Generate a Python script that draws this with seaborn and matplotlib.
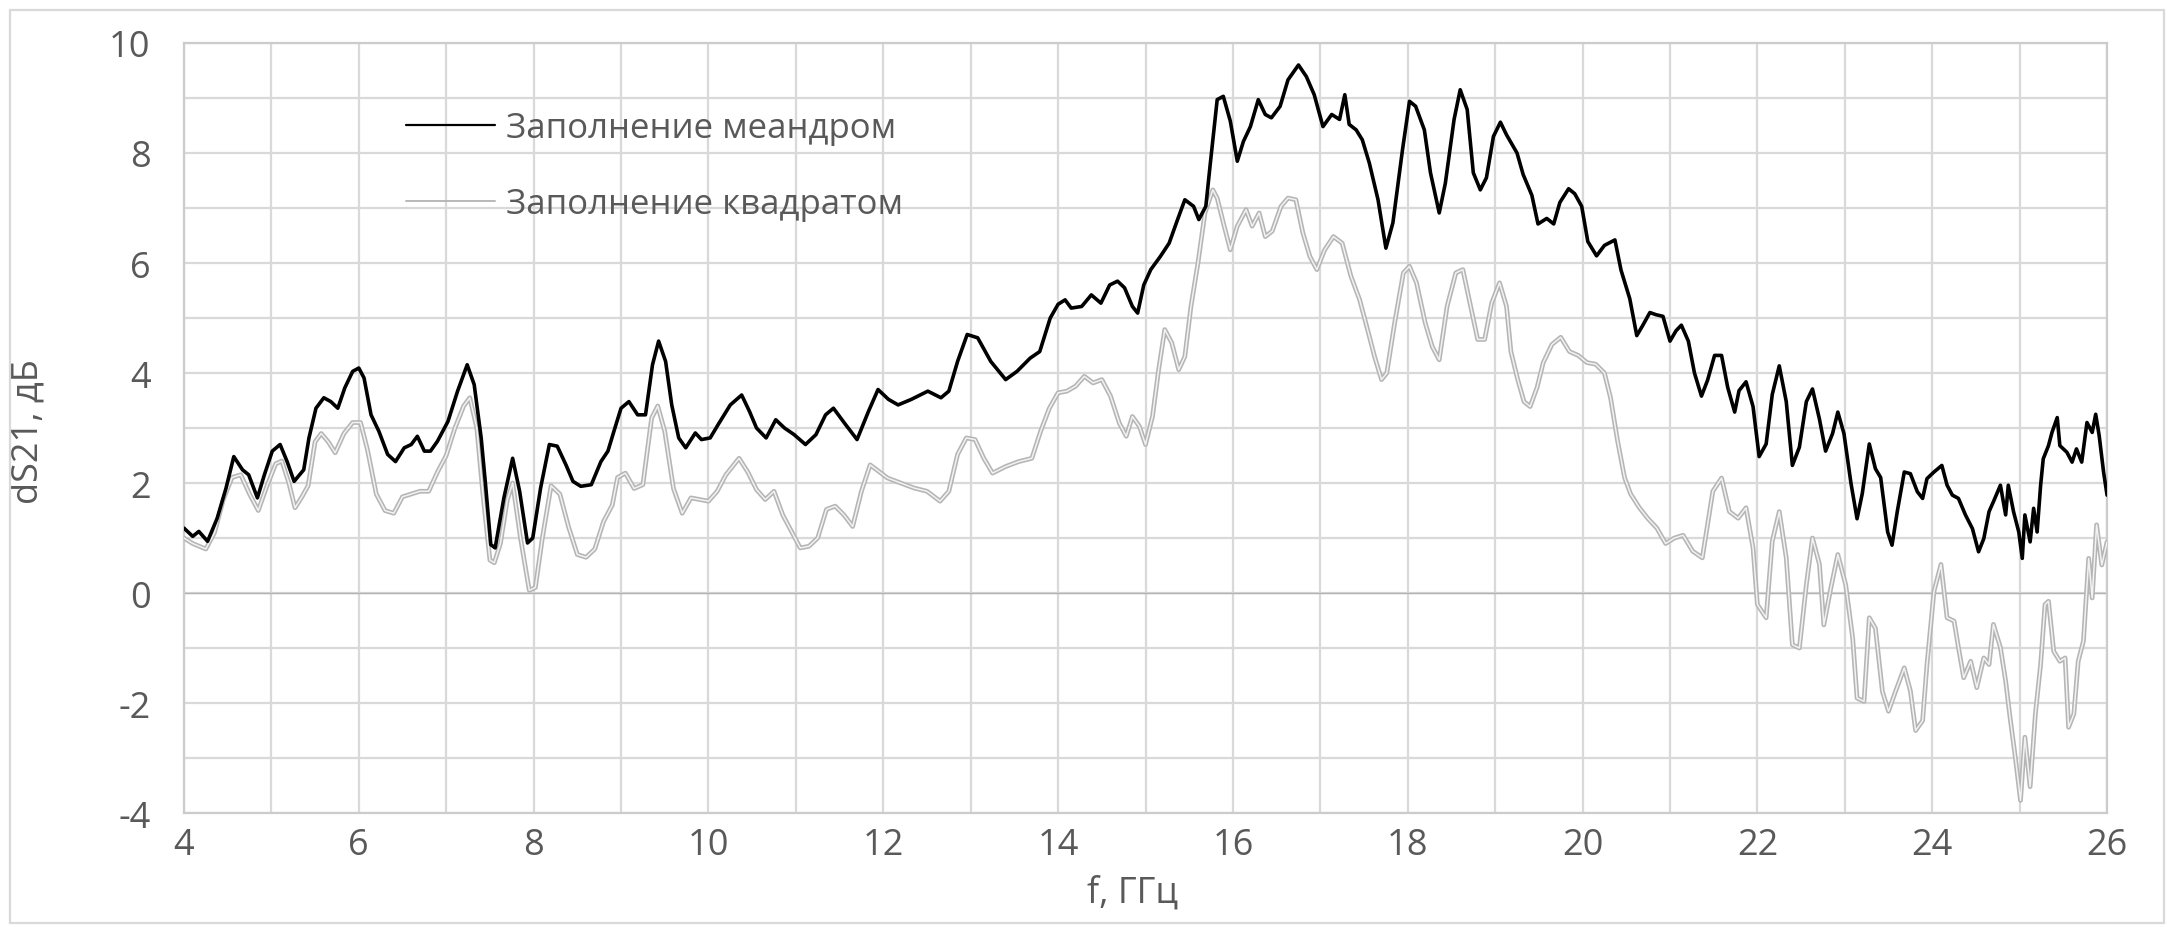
import matplotlib
matplotlib.use("Agg")
import matplotlib.pyplot as plt
from matplotlib.lines import Line2D
from matplotlib.patches import Rectangle
from matplotlib.ticker import MultipleLocator
import pandas as pd
import seaborn as sns

# Transmission difference dS21 (dB) vs frequency (GHz)
meander_f = [4.0, 4.1, 4.17, 4.27, 4.38, 4.48, 4.57, 4.67, 4.74, 4.84, 4.92, 5.01, 5.1, 5.18, 5.26,
             5.37, 5.43, 5.51, 5.6, 5.68, 5.76, 5.84, 5.93, 6.0, 6.06, 6.14, 6.23, 6.33, 6.42, 6.52,
             6.6, 6.67, 6.75, 6.82, 6.9, 7.02, 7.13, 7.24, 7.32, 7.4, 7.45, 7.51, 7.56, 7.66, 7.76,
             7.84, 7.93, 7.99, 8.08, 8.18, 8.27, 8.37, 8.45, 8.54, 8.66, 8.77, 8.85, 8.93, 9.0, 9.09,
             9.19, 9.28, 9.36, 9.43, 9.51, 9.58, 9.66, 9.74, 9.85, 9.92, 10.02, 10.11, 10.25, 10.38,
             10.47, 10.55, 10.66, 10.77, 10.87, 10.98, 11.11, 11.23, 11.34, 11.43, 11.57, 11.7, 11.83,
             11.94, 12.06, 12.17, 12.32, 12.51, 12.66, 12.75, 12.85, 12.96, 13.08, 13.23, 13.4, 13.53,
             13.68, 13.79, 13.91, 14.0, 14.08, 14.15, 14.27, 14.38, 14.49, 14.59, 14.68, 14.76, 14.85,
             14.91, 14.98, 15.06, 15.17, 15.27, 15.36, 15.45, 15.55, 15.61, 15.69, 15.74, 15.82, 15.89,
             15.97, 16.05, 16.12, 16.2, 16.29, 16.37, 16.44, 16.54, 16.63, 16.75, 16.84, 16.93, 17.03,
             17.13, 17.22, 17.28, 17.33, 17.41, 17.48, 17.56, 17.66, 17.75, 17.83, 17.94, 18.02, 18.09,
             18.19, 18.26, 18.36, 18.43, 18.53, 18.6, 18.68, 18.75, 18.83, 18.9, 18.98, 19.06, 19.13,
             19.25, 19.32, 19.42, 19.49, 19.59, 19.67, 19.74, 19.84, 19.91, 19.99, 20.06, 20.16, 20.25,
             20.37, 20.44, 20.54, 20.62, 20.69, 20.77, 20.84, 20.92, 21.0, 21.07, 21.13, 21.21, 21.28,
             21.36, 21.43, 21.51, 21.59, 21.66, 21.74, 21.79, 21.87, 21.95, 22.02, 22.1, 22.17, 22.25,
             22.33, 22.4, 22.48, 22.56, 22.63, 22.71, 22.78, 22.86, 22.92, 22.99, 23.07, 23.14, 23.2,
             23.28, 23.35, 23.41, 23.49, 23.54, 23.6, 23.68, 23.75, 23.83, 23.89, 23.94, 24.02, 24.11,
             24.17, 24.23, 24.3, 24.38, 24.46, 24.53, 24.59, 24.65, 24.7, 24.78, 24.84, 24.87, 24.93,
             24.99, 25.03, 25.06, 25.12, 25.16, 25.2, 25.24, 25.27, 25.33, 25.37, 25.43, 25.46, 25.54,
             25.6, 25.65, 25.71, 25.77, 25.83, 25.87, 25.91, 25.96, 26.0]
meander_db = [1.18, 1.03, 1.12, 0.94, 1.36, 1.9, 2.48, 2.24, 2.15, 1.73, 2.15, 2.58, 2.7, 2.39, 2.03,
              2.24, 2.82, 3.36, 3.55, 3.48, 3.36, 3.73, 4.03, 4.09, 3.91, 3.24, 2.94, 2.52, 2.39, 2.64,
              2.7, 2.85, 2.58, 2.58, 2.76, 3.12, 3.67, 4.15, 3.79, 2.82, 1.97, 0.88, 0.82, 1.73, 2.45,
              1.85, 0.91, 1.0, 1.91, 2.7, 2.67, 2.33, 2.03, 1.94, 1.97, 2.39, 2.58, 3.0, 3.36, 3.48,
              3.24, 3.24, 4.15, 4.58, 4.21, 3.42, 2.82, 2.64, 2.91, 2.79, 2.82, 3.06, 3.42, 3.6,
              3.3, 3.0, 2.82, 3.15, 3.0, 2.88, 2.7, 2.88, 3.24, 3.36, 3.06, 2.79, 3.3,
              3.7, 3.52, 3.42, 3.52, 3.67, 3.55, 3.67, 4.21, 4.7, 4.64, 4.21, 3.88, 4.03,
              4.27, 4.39, 5.0, 5.25, 5.33, 5.18, 5.21, 5.42, 5.27, 5.6, 5.67, 5.55, 5.21,
              5.09, 5.6, 5.88, 6.12, 6.36, 6.76, 7.15, 7.03, 6.79, 7.03, 7.79, 8.97, 9.03,
              8.58, 7.85, 8.21, 8.48, 8.97, 8.7, 8.64, 8.85, 9.33, 9.6, 9.39, 9.06, 8.48,
              8.7, 8.61, 9.06, 8.52, 8.42, 8.24, 7.82, 7.15, 6.27, 6.73, 8.06, 8.94, 8.85,
              8.42, 7.64, 6.91, 7.45, 8.61, 9.15, 8.79, 7.64, 7.33, 7.55, 8.3, 8.56, 8.33,
              8.0, 7.61, 7.23, 6.71, 6.81, 6.71, 7.1, 7.35, 7.26, 7.03, 6.39, 6.13, 6.32,
              6.42, 5.87, 5.35, 4.68, 4.87, 5.1, 5.06, 5.03, 4.58, 4.77, 4.87, 4.58, 4.0,
              3.58, 3.87, 4.32, 4.32, 3.74, 3.29, 3.68, 3.84, 3.39, 2.48, 2.71, 3.61, 4.13,
              3.48, 2.32, 2.65, 3.48, 3.71, 3.16, 2.58, 2.9, 3.29, 2.9, 2.0, 1.35, 1.81,
              2.71, 2.26, 2.1, 1.11, 0.87, 1.48, 2.2, 2.17, 1.84, 1.72, 2.08, 2.2, 2.32,
              1.96, 1.78, 1.72, 1.42, 1.17, 0.75, 0.99, 1.48, 1.66, 1.96, 1.42, 1.96, 1.48,
              1.11, 0.63, 1.42, 0.93, 1.54, 1.11, 1.96, 2.44, 2.68, 2.92, 3.19, 2.68, 2.56,
              2.38, 2.62, 2.38, 3.1, 2.92, 3.25, 2.86, 2.2, 1.78]

square_f = [4.0, 4.1, 4.25, 4.35, 4.45, 4.55, 4.65, 4.75, 4.85, 4.95, 5.05, 5.12, 5.2, 5.27, 5.35,
            5.42, 5.5, 5.57, 5.65, 5.73, 5.83, 5.93, 6.02, 6.1, 6.2, 6.3, 6.4, 6.5, 6.6, 6.7, 6.8,
            6.9, 7.0, 7.1, 7.2, 7.27, 7.35, 7.42, 7.5, 7.55, 7.62, 7.7, 7.76, 7.85, 7.95, 8.02, 8.1,
            8.2, 8.3, 8.4, 8.5, 8.6, 8.7, 8.8, 8.9, 8.96, 9.05, 9.15, 9.25, 9.35, 9.42, 9.5, 9.6,
            9.7, 9.8, 9.9, 10.0, 10.1, 10.2, 10.35, 10.45, 10.55, 10.65, 10.75, 10.85, 10.95, 11.05,
            11.15, 11.25, 11.35, 11.45, 11.55, 11.65, 11.75, 11.85, 11.95, 12.05, 12.2, 12.35, 12.5,
            12.65, 12.75, 12.85, 12.95, 13.05, 13.15, 13.25, 13.4, 13.55, 13.7, 13.8, 13.9, 14.0,
            14.1, 14.2, 14.3, 14.4, 14.5, 14.6, 14.7, 14.78, 14.85, 14.93, 15.0, 15.08, 15.15, 15.22,
            15.3, 15.38, 15.45, 15.52, 15.6, 15.68, 15.77, 15.82, 15.9, 15.97, 16.05, 16.15, 16.22,
            16.3, 16.37, 16.45, 16.55, 16.63, 16.72, 16.8, 16.88, 16.96, 17.05, 17.15, 17.25, 17.35,
            17.45, 17.55, 17.62, 17.7, 17.76, 17.85, 17.95, 18.02, 18.1, 18.2, 18.28, 18.36, 18.45,
            18.55, 18.63, 18.72, 18.8, 18.88, 18.96, 19.05, 19.13, 19.18, 19.26, 19.33, 19.4, 19.48,
            19.55, 19.65, 19.75, 19.85, 19.95, 20.05, 20.15, 20.25, 20.32, 20.4, 20.48, 20.55, 20.65,
            20.75, 20.85, 20.95, 21.05, 21.15, 21.26, 21.37, 21.49, 21.59, 21.68, 21.78, 21.87, 21.95,
            22.0, 22.1, 22.17, 22.25, 22.33, 22.4, 22.48, 22.56, 22.63, 22.71, 22.76, 22.84, 22.92,
            23.01, 23.09, 23.14, 23.22, 23.28, 23.35, 23.43, 23.5, 23.58, 23.68, 23.75, 23.81, 23.89,
            23.94, 24.02, 24.1, 24.17, 24.25, 24.3, 24.36, 24.44, 24.51, 24.59, 24.65, 24.7, 24.78,
            24.84, 24.89, 24.95, 25.01, 25.06, 25.12, 25.18, 25.24, 25.29, 25.33, 25.39, 25.46, 25.52,
            25.56, 25.62, 25.67, 25.73, 25.79, 25.83, 25.88, 25.94, 26.0]
square_db = [1.0, 0.9, 0.8, 1.1, 1.7, 2.1, 2.15, 1.8, 1.5, 1.95, 2.35, 2.4, 2.0, 1.55, 1.75,
             1.95, 2.75, 2.9, 2.75, 2.55, 2.9, 3.1, 3.1, 2.6, 1.8, 1.5, 1.45, 1.75, 1.8, 1.85, 1.85,
             2.2, 2.5, 3.0, 3.4, 3.55, 3.0, 1.8, 0.6, 0.55, 0.9, 1.7, 2.0, 1.0, 0.05, 0.1, 1.0,
             1.95, 1.8, 1.2, 0.7, 0.65, 0.8, 1.3, 1.6, 2.1, 2.18, 1.9, 1.97, 3.18, 3.4, 2.94, 1.9,
             1.45, 1.73, 1.7, 1.67, 1.85, 2.15, 2.45, 2.2, 1.88, 1.7, 1.85, 1.42, 1.12, 0.82,
             0.85, 1.0, 1.52, 1.58, 1.42, 1.21, 1.85, 2.33, 2.21, 2.09, 2.0, 1.91, 1.85,
             1.67, 1.85, 2.52, 2.82, 2.79, 2.45, 2.18, 2.3, 2.39, 2.45, 2.94, 3.36, 3.64,
             3.67, 3.76, 3.94, 3.82, 3.88, 3.58, 3.09, 2.85, 3.21, 3.03, 2.7, 3.21, 4.06, 4.79,
             4.55, 4.06, 4.3, 5.21, 6.0, 6.91, 7.33, 7.18, 6.67, 6.24, 6.67, 6.97, 6.67,
             6.91, 6.48, 6.58, 7.03, 7.18, 7.15, 6.55, 6.12, 5.88, 6.24, 6.48, 6.36, 5.76,
             5.33, 4.73, 4.3, 3.88, 4.0, 4.91, 5.82, 5.94, 5.64, 4.91, 4.48, 4.24, 5.21,
             5.82, 5.88, 5.21, 4.61, 4.61, 5.27, 5.64, 5.21, 4.39, 3.87, 3.48, 3.39, 3.74,
             4.19, 4.52, 4.65, 4.39, 4.32, 4.19, 4.16, 4.0, 3.55, 2.77, 2.1, 1.8, 1.55,
             1.35, 1.18, 0.9, 1.0, 1.05, 0.76, 0.64, 1.85, 2.09, 1.48, 1.36, 1.55, 0.82,
             -0.21, -0.45, 0.94, 1.48, 0.64, -0.94, -1.0, 0.15, 1.0, 0.52, -0.58, 0.09, 0.7,
             0.15, -0.82, -1.91, -1.97, -0.45, -0.64, -1.79, -2.15, -1.79, -1.36, -1.78, -2.5, -2.32,
             -1.3, 0.03, 0.52, -0.45, -0.51, -0.99, -1.54, -1.24, -1.72, -1.18, -1.3, -0.57, -0.99,
             -1.6, -2.26, -2.98, -3.77, -2.62, -3.52, -2.2, -1.3, -0.21, -0.15, -1.06, -1.24, -1.18,
             -2.44, -2.2, -1.24, -0.87, 0.63, -0.09, 1.24, 0.51, 0.93]

label_meander = "Заполнение меандром"
label_square = "Заполнение квадратом"
x_label = "f, ГГц"
y_label = "dS21, дБ"

meander = pd.DataFrame({"f": meander_f, "dS21": meander_db})
square = pd.DataFrame({"f": square_f, "dS21": square_db})

sns.set_style("white")
plt.rcParams["font.family"] = ["Open Sans", "DejaVu Sans"]
plt.rcParams["axes.unicode_minus"] = False
text_color = "#595959"
grid_color = "#d9d9d9"

fig = plt.figure(figsize=(21.72, 9.28), dpi=100)
ax = fig.add_axes([0.0847, 0.1228, 0.8854, 0.8298])

# square-fill series: light double line (outline + pale core)
sns.lineplot(data=square, x="f", y="dS21", ax=ax, color="#b5b5b5", lw=3.4,
             estimator=None, sort=False, legend=False, zorder=3)
sns.lineplot(data=square, x="f", y="dS21", ax=ax, color="#f2f2f2", lw=1.1,
             estimator=None, sort=False, legend=False, zorder=4)
# meander-fill series
sns.lineplot(data=meander, x="f", y="dS21", ax=ax, color="black", lw=2.6,
             estimator=None, sort=False, legend=False, zorder=5)

ax.set_xlim(4, 26)
ax.set_ylim(-4, 10)
ax.xaxis.set_major_locator(MultipleLocator(2))
ax.xaxis.set_minor_locator(MultipleLocator(1))
ax.yaxis.set_major_locator(MultipleLocator(2))
ax.yaxis.set_minor_locator(MultipleLocator(1))
ax.grid(which="both", color=grid_color, lw=1.6, zorder=0)
ax.set_axisbelow(True)
ax.axhline(0, color="#b3b3b3", lw=1.0, zorder=1)
for s in ax.spines.values():
    s.set_color("#cccccc")
    s.set_linewidth(1.6)
ax.tick_params(which="both", length=0, labelsize=26, labelcolor=text_color)
ax.tick_params(axis="y", pad=24)
ax.tick_params(axis="x", pad=10)

ax.set_xlabel(x_label, fontsize=26, color=text_color)
ax.set_ylabel(y_label, fontsize=26, color=text_color)
ax.xaxis.set_label_coords(0.4935, -0.1026)
ax.xaxis.label.set_verticalalignment("center")
ax.yaxis.set_label_coords(-0.081, 0.497)
ax.yaxis.label.set_verticalalignment("center")

handles = [Line2D([], [], color="black", lw=1.6),
           Line2D([], [], color="#b8b8b8", lw=1.4)]
ax.legend(handles, [label_meander, label_square], loc="upper left",
          bbox_to_anchor=(0.0993, 0.952), frameon=False, fontsize=25,
          labelcolor=text_color, handlelength=2.56, handletextpad=0.32,
          labelspacing=1.21)

fig.add_artist(Rectangle((0.0046, 0.004), 0.9917, 0.9845, transform=fig.transFigure,
                         fill=False, edgecolor=grid_color, lw=1.6))

fig.savefig("out.png", dpi=100, facecolor="white")
